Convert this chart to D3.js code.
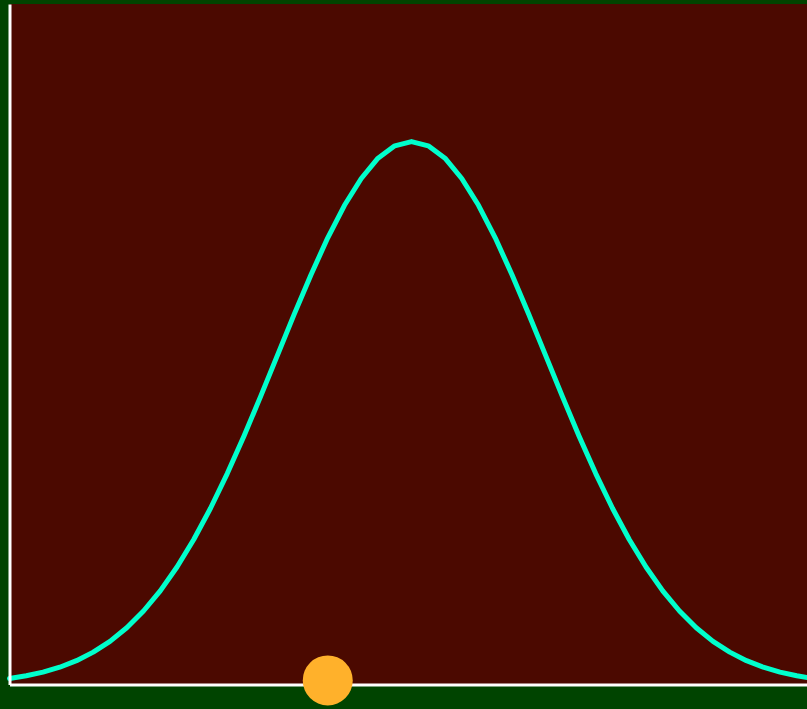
<!DOCTYPE html>
<html>
<head>
<meta charset="utf-8">
<script src="https://cdn.jsdelivr.net/npm/d3@7"></script>
<style>
  html, body { margin: 0; padding: 0; background: #004400; overflow: hidden; }
</style>
</head>
<body>
<div id="chart"></div>
<script>
// datos
const xValues = [-3, -2.875, -2.75, -2.625, -2.5, -2.375, -2.25, -2.125, -2, -1.875, -1.75, -1.625, -1.5,
    -1.375, -1.25, -1.125, -1, -0.875, -0.75, -0.625, -0.5, -0.375, -0.25, -0.125, 0,
    0.125, 0.25, 0.375, 0.5, 0.625, 0.75, 0.875, 1, 1.125, 1.25, 1.375, 1.5,
    1.625, 1.75, 1.875, 2, 2.125, 2.25, 2.375, 2.5, 2.625, 2.75, 2.875, 3]
const yValues = [0.0044, 0.0064, 0.0091, 0.0127, 0.0175, 0.0238, 0.0317, 0.0417, 0.0540, 0.0688, 0.0863, 0.1065, 0.1295,
    0.1550, 0.1826, 0.2119, 0.2420, 0.2721, 0.3011, 0.3282, 0.3521, 0.3718, 0.3867, 0.3958, 0.3989,
    0.3958, 0.3867, 0.3718, 0.3521, 0.3282, 0.3011, 0.2721, 0.2420, 0.2119, 0.1826, 0.1550, 0.1295,
    0.1065, 0.0863, 0.0688, 0.0540, 0.0417, 0.0317, 0.0238, 0.0175, 0.0127, 0.0091, 0.0064, 0.0044]
const markerX = [-0.625]
const markerY = [0.003]
const xDomain = [-3, 3]
const yDomain = [0, 0.5]

const width = 807
const height = 709
const margin = {top: 4, left: 9.5, right: -6.5, bottom: 24.5}
const innerW = width - margin.left - margin.right
const innerH = height - margin.top - margin.bottom

const svg = d3.select('#chart').append('svg').attr('width', width).attr('height', height)
    .style('display', 'block')
svg.append('rect').attr('width', width).attr('height', height).attr('fill', '#004400')

const g = svg.append('g').attr('transform', `translate(${margin.left}, ${margin.top})`)

const x = d3.scaleLinear().domain(xDomain).range([0, innerW])
const y = d3.scaleLinear().domain(yDomain).range([innerH, 0])

g.append('rect').attr('x', 0).attr('y', 0).attr('width', innerW).attr('height', innerH).attr('fill', '#4b0900')

const data = xValues.map((v, i) => ({x: v, y: yValues[i]}))

g.append('path').datum(data)
    .attr('fill', 'none')
    .attr('stroke', '#00ffcc')
    .attr('stroke-width', 5)
    .attr('stroke-linejoin', 'round')
    .attr('stroke-linecap', 'round')
    .attr('d', d3.line().x(d => x(d.x)).y(d => y(d.y)))

// ejes sin ticks
const xAxisGroup = g.append('g').attr('transform', `translate(0, ${innerH})`)
    .call(d3.axisBottom(x).ticks(0).tickSize(0))
const yAxisGroup = g.append('g')
    .call(d3.axisLeft(y).ticks(0).tickSize(0))
g.selectAll('.domain').attr('stroke', '#ffffff').attr('stroke-width', 3)

g.selectAll('circle').data(markerX).enter()
    .append('circle')
    .attr('cx', d => x(d))
    .attr('cy', (d, i) => y(markerY[i]))
    .attr('r', 25)
    .attr('fill', '#ffb12b')
</script>
</body>
</html>
